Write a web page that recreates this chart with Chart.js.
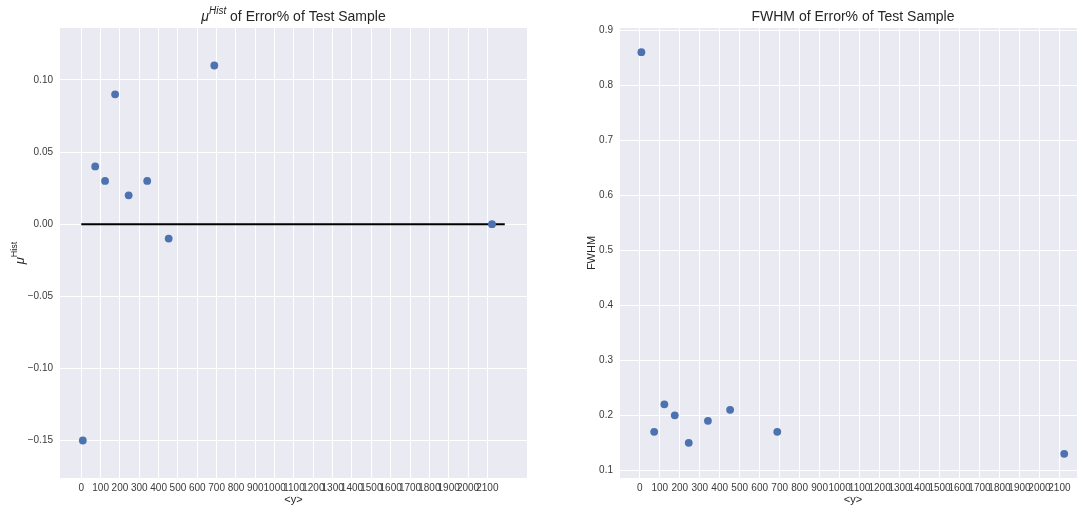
<!DOCTYPE html>
<html>
<head>
<meta charset="utf-8">
<script src="https://cdn.jsdelivr.net/npm/chart.js@4/dist/chart.umd.min.js"></script>
<style>
  html, body { margin: 0; padding: 0; background: #fff; width: 1077px; height: 508px; overflow: hidden; }
  .box { position: absolute; top: 0; height: 508px; }
  #leftBox { left: 0; width: 540px; }
  #rightBox { left: 540px; width: 560px; }
</style>
</head>
<body>
<div class="box" id="leftBox"><canvas id="muChart"></canvas></div>
<div class="box" id="rightBox"><canvas id="fwhmChart"></canvas></div>
<script>
// data
const meanY = [8, 72, 123, 175, 245, 341, 452, 688, 2124];
const muHist = [-0.15, 0.04, 0.03, 0.09, 0.02, 0.03, -0.01, 0.11, 0.00];
const fwhm = [0.86, 0.17, 0.22, 0.20, 0.15, 0.19, 0.21, 0.17, 0.13];

// horizontal reference line at zero
const zeroLineX = [0, 2190];
const zeroLineY = [0, 0];

// tick labels
const xTicks = [0, 100, 200, 300, 400, 500, 600, 700, 800, 900, 1000, 1100, 1200, 1300, 1400, 1500, 1600, 1700, 1800, 1900, 2000, 2100];
const muTicks = [-0.15, -0.10, -0.05, 0.00, 0.05, 0.10];
const fwhmTicks = [0.1, 0.2, 0.3, 0.4, 0.5, 0.6, 0.7, 0.8, 0.9];

const FONT = "'Liberation Sans', Arial, sans-serif";
const TEXT = '#3a3a3a';
const DOT = '#4C72B0';

Chart.defaults.font.family = FONT;
Chart.defaults.color = TEXT;

function toPoints(xs, ys) {
  return xs.map((x, i) => ({ x: x, y: ys[i] }));
}

function minus(s) {
  return s.replace('-', '\u2212');
}

// grey plot background + titles with superscripts
const decorPlugin = {
  id: 'decor',
  beforeDraw(chart, args, opts) {
    const a = chart.chartArea;
    const ctx = chart.ctx;
    ctx.save();
    ctx.fillStyle = '#EAEAF2';
    ctx.fillRect(a.left, a.top, a.right - a.left, a.bottom - a.top);
    ctx.restore();
  },
  afterDraw(chart, args, opts) {
    const ctx = chart.ctx;
    const a = chart.chartArea;
    if (opts.title) drawRich(ctx, opts.title, (a.left + a.right) / 2, 17, 0);
    if (opts.yLabel) drawRich(ctx, opts.yLabel, opts.yLabelX, (a.top + a.bottom) / 2, -Math.PI / 2);
  }
};

function segFont(seg, base) {
  const size = seg.sup ? Math.round(base * 0.7) : base;
  return (seg.italic ? 'italic ' : '') + size + 'px ' + FONT;
}

function drawRich(ctx, spec, cx, cy, rot) {
  ctx.save();
  ctx.translate(cx, cy);
  ctx.rotate(rot);
  ctx.fillStyle = '#262626';
  ctx.textBaseline = 'middle';
  ctx.textAlign = 'left';
  let total = 0;
  spec.segments.forEach(seg => {
    ctx.font = segFont(seg, spec.size);
    total += ctx.measureText(seg.text).width;
  });
  let x = -total / 2;
  spec.segments.forEach(seg => {
    ctx.font = segFont(seg, spec.size);
    ctx.fillText(seg.text, x, seg.sup ? -spec.size * 0.4 : 0);
    x += ctx.measureText(seg.text).width;
  });
  ctx.restore();
}

function xAxis(min, max) {
  return {
    type: 'linear',
    min: min,
    max: max,
    afterBuildTicks: s => { s.ticks = xTicks.map(v => ({ value: v })); },
    afterFit: s => { s.height = 30; },
    grid: { color: '#ffffff', lineWidth: 1, drawTicks: false },
    border: { display: false },
    ticks: {
      autoSkip: false,
      maxRotation: 0,
      minRotation: 0,
      padding: 4,
      font: { size: 10 },
      color: TEXT,
      callback: v => String(v)
    },
    title: {
      display: true,
      text: '<y>',
      font: { size: 11 },
      color: '#262626',
      padding: { top: 0, bottom: 1 }
    }
  };
}

function yAxis(min, max, ticks, digits, width) {
  return {
    type: 'linear',
    min: min,
    max: max,
    afterBuildTicks: s => { s.ticks = ticks.map(v => ({ value: v })); },
    afterFit: s => { s.width = width; },
    grid: { color: '#ffffff', lineWidth: 1, drawTicks: false },
    border: { display: false },
    ticks: {
      padding: 7,
      font: { size: 10 },
      color: TEXT,
      callback: v => minus(Number(v).toFixed(digits))
    }
  };
}

// left: mu^Hist
const muCtx = document.getElementById('muChart').getContext('2d');
const muChart = new Chart(muCtx, {
  type: 'scatter',
  data: {
    datasets: [{
      label: 'mu',
      data: toPoints(meanY, muHist),
      backgroundColor: DOT,
      borderColor: DOT,
      borderWidth: 0,
      pointRadius: 3.9,
      order: 0
    }, {
      type: 'line',
      label: 'zero',
      data: toPoints(zeroLineX, zeroLineY),
      borderColor: '#000000',
      borderWidth: 2,
      pointRadius: 0,
      order: 1
    }]
  },
  options: {
    responsive: true,
    maintainAspectRatio: false,
    animation: false,
    layout: { padding: { top: 28, right: 13, left: 0, bottom: 0 } },
    plugins: {
      legend: { display: false },
      tooltip: { enabled: false },
      decor: {
        title: {
          size: 14,
          segments: [
            { text: 'μ', italic: true },
            { text: 'Hist', italic: true, sup: true },
            { text: ' of Error% of Test Sample' }
          ]
        },
        yLabel: {
          size: 13,
          segments: [
            { text: 'μ', italic: true },
            { text: 'Hist', sup: true }
          ]
        },
        yLabelX: 20
      }
    },
    scales: {
      x: xAxis(-110, 2305),
      y: yAxis(-0.176, 0.136, muTicks, 2, 60)
    }
  },
  plugins: [decorPlugin]
});

// right: FWHM
const fwhmCtx = document.getElementById('fwhmChart').getContext('2d');
const yFwhm = yAxis(0.086, 0.904, fwhmTicks, 1, 80);
yFwhm.title = {
  display: true,
  text: 'FWHM',
  font: { size: 11 },
  color: '#262626',
  padding: { top: 45, bottom: 0 }
};
const fwhmChart = new Chart(fwhmCtx, {
  type: 'scatter',
  data: {
    datasets: [{
      label: 'fwhm',
      data: toPoints(meanY, fwhm),
      backgroundColor: DOT,
      borderColor: DOT,
      borderWidth: 0,
      pointRadius: 3.9
    }]
  },
  options: {
    responsive: true,
    maintainAspectRatio: false,
    animation: false,
    layout: { padding: { top: 28, right: 14, left: 0, bottom: 0 } },
    plugins: {
      legend: { display: false },
      tooltip: { enabled: false },
      decor: {
        title: {
          size: 14,
          segments: [{ text: 'FWHM of Error% of Test Sample' }]
        }
      }
    },
    scales: {
      x: xAxis(-99, 2233),
      y: yFwhm
    }
  },
  plugins: [decorPlugin]
});
</script>
</body>
</html>
